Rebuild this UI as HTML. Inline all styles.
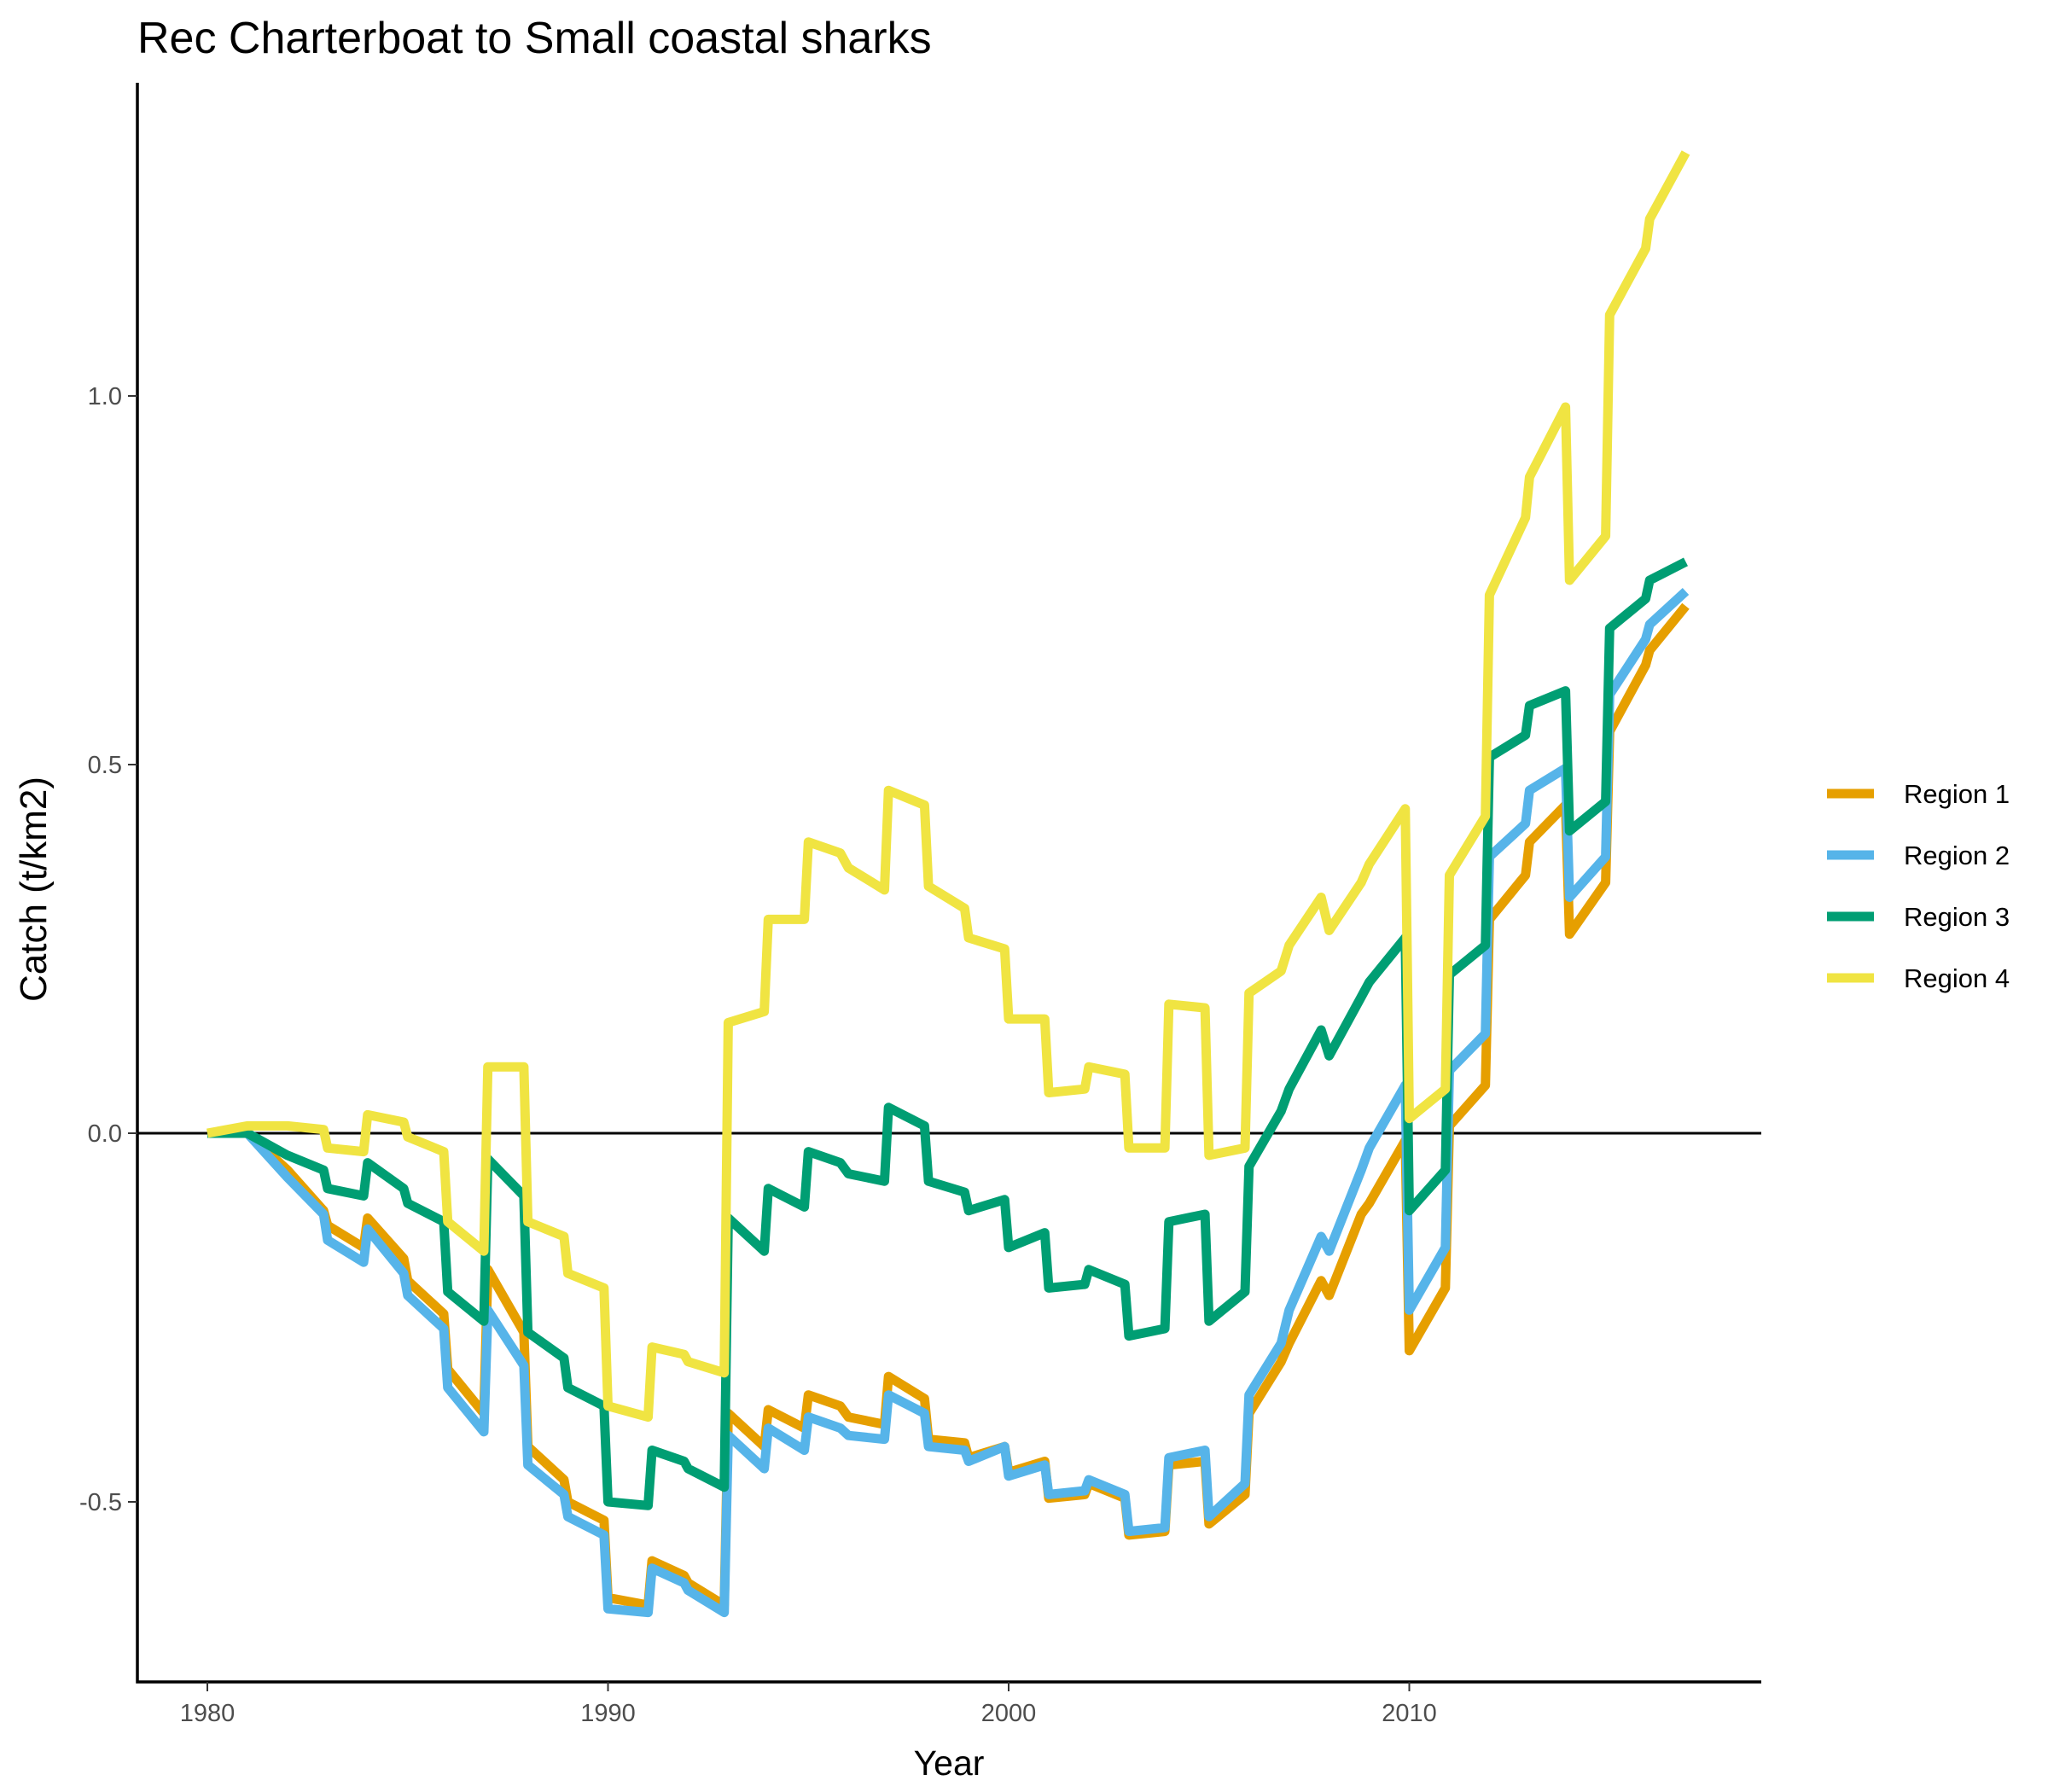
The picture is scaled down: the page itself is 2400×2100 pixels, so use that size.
<!DOCTYPE html>
<html><head><meta charset="utf-8"><style>
html,body{margin:0;padding:0;background:#fff;}
svg{display:block;font-family:"Liberation Sans",sans-serif;}
</style></head><body>
<svg id="chart" width="2400" height="2100" viewBox="0 0 2400 2100" xmlns="http://www.w3.org/2000/svg">
<rect width="2400" height="2100" fill="#fff"/>
<text x="161" y="62" font-size="52" fill="#000">Rec Charterboat to Small coastal sharks</text>
<g id="plot"></g>
<text x="1112" y="2080" font-size="41" text-anchor="middle" fill="#000">Year</text>
<text transform="translate(54,1042) rotate(-90)" font-size="44" text-anchor="middle" fill="#000">Catch (t/km2)</text>
<g id="legend"></g>
</svg>
<script>
const xTicks = [1980, 1990, 2000, 2010];
const yTicks = [-0.5, 0, 0.5, 1];
const yTickLabels = ["-0.5", "0.0", "0.5", "1.0"];
const seriesNames = ["Region 1", "Region 2", "Region 3", "Region 4"];
const seriesColors = ["#E69F00", "#56B4E9", "#009E73", "#F0E442"];
const years = [1980,1981,1982,1982.9,1983,1983.9,1984,1984.9,1985,1985.9,1986,1986.9,1987,1987.9,1988,1988.9,1989,1989.9,1990,1991,1991.1,1991.9,1992,1992.9,1993,1993.9,1994,1994.9,1995,1995.8,1996,1996.9,1997,1997.9,1998,1998.9,1999,1999.9,2000,2000.9,2001,2001.9,2002,2002.9,2003,2003.9,2004,2004.9,2005,2005.9,2006,2006.8,2007,2007.8,2008,2008.8,2009,2009.9,2010,2010.9,2011,2011.9,2012,2012.9,2013,2013.9,2014,2014.9,2015,2015.9,2016,2016.9];
const region1 = [0,0,-0.05,-0.105,-0.125,-0.155,-0.115,-0.17,-0.2,-0.245,-0.32,-0.38,-0.185,-0.27,-0.425,-0.47,-0.5,-0.525,-0.63,-0.64,-0.58,-0.6,-0.61,-0.64,-0.38,-0.425,-0.375,-0.4,-0.355,-0.37,-0.385,-0.395,-0.33,-0.36,-0.415,-0.42,-0.44,-0.425,-0.46,-0.445,-0.495,-0.49,-0.475,-0.495,-0.545,-0.54,-0.45,-0.445,-0.53,-0.49,-0.38,-0.31,-0.285,-0.2,-0.22,-0.11,-0.095,-0.01,-0.295,-0.21,0.01,0.065,0.29,0.35,0.395,0.445,0.27,0.34,0.545,0.635,0.655,0.715];
const region2 = [0,0,-0.06,-0.11,-0.145,-0.175,-0.13,-0.19,-0.22,-0.265,-0.345,-0.405,-0.24,-0.315,-0.45,-0.49,-0.52,-0.545,-0.645,-0.65,-0.59,-0.61,-0.62,-0.65,-0.41,-0.455,-0.4,-0.43,-0.385,-0.4,-0.41,-0.415,-0.355,-0.38,-0.425,-0.43,-0.445,-0.425,-0.465,-0.45,-0.49,-0.485,-0.47,-0.49,-0.54,-0.535,-0.44,-0.43,-0.52,-0.475,-0.355,-0.285,-0.24,-0.14,-0.16,-0.05,-0.02,0.065,-0.24,-0.155,0.085,0.135,0.375,0.42,0.465,0.495,0.32,0.375,0.595,0.67,0.69,0.735];
const region3 = [0,0,-0.03,-0.05,-0.075,-0.085,-0.04,-0.075,-0.095,-0.12,-0.215,-0.255,-0.035,-0.085,-0.27,-0.305,-0.345,-0.37,-0.5,-0.505,-0.43,-0.445,-0.455,-0.48,-0.115,-0.16,-0.075,-0.1,-0.025,-0.04,-0.055,-0.065,0.035,0.01,-0.065,-0.08,-0.105,-0.09,-0.155,-0.135,-0.21,-0.205,-0.185,-0.205,-0.275,-0.265,-0.12,-0.11,-0.255,-0.215,-0.045,0.03,0.06,0.14,0.105,0.185,0.205,0.265,-0.105,-0.05,0.215,0.255,0.51,0.54,0.58,0.6,0.41,0.45,0.685,0.725,0.75,0.775];
const region4 = [0,0.01,0.01,0.005,-0.02,-0.025,0.025,0.015,-0.005,-0.025,-0.12,-0.16,0.09,0.09,-0.12,-0.14,-0.19,-0.21,-0.37,-0.385,-0.29,-0.3,-0.31,-0.325,0.15,0.165,0.29,0.29,0.395,0.38,0.36,0.33,0.465,0.445,0.335,0.305,0.265,0.25,0.155,0.155,0.055,0.06,0.09,0.08,-0.02,-0.02,0.175,0.17,-0.03,-0.02,0.19,0.22,0.255,0.32,0.275,0.34,0.365,0.44,0.02,0.06,0.35,0.43,0.73,0.835,0.89,0.985,0.75,0.81,1.11,1.2,1.24,1.33];
const allSeries = [region1, region2, region3, region4];

const NS = "http://www.w3.org/2000/svg";
const X0 = 243, XPY = 46.95, Y0 = 1328, YPU = 864;
const L = 161, R = 2064, T = 97, B = 1971;
function xs(v){ return X0 + (v - 1980) * XPY; }
function ys(v){ return Y0 - v * YPU; }
function mk(tag, attrs){ const e = document.createElementNS(NS, tag); for (const k in attrs) e.setAttribute(k, attrs[k]); return e; }
const plot = document.getElementById("plot");

const zl = mk("line", {x1:L, x2:R, y1:ys(0), y2:ys(0), stroke:"#000", "stroke-width":3});


plot.appendChild(zl);

allSeries.forEach((s, i) => {
  const d = s.map((v, j) => (j ? "L" : "M") + xs(years[j]).toFixed(1) + "," + ys(v).toFixed(1)).join("");
  const p = mk("path", {d:d, fill:"none", stroke:seriesColors[i], "stroke-width":11, "stroke-linejoin":"round"});
  
  
  plot.appendChild(p);
});

const ax = mk("path", {d:`M${L},${T}L${L},${B}L${R},${B}`, fill:"none", stroke:"#000", "stroke-width":3.5});


plot.appendChild(ax);

xTicks.forEach(t => {
  const tk = mk("line", {x1:xs(t), x2:xs(t), y1:B, y2:B + 11, stroke:"#333", "stroke-width":2});
  
  
  plot.appendChild(tk);
  const tx = mk("text", {x:xs(t), y:B + 46, "font-size":29, fill:"#4d4d4d", "text-anchor":"middle"});
  tx.textContent = t;
  
  
  plot.appendChild(tx);
});
yTicks.forEach((t, i) => {
  const tk = mk("line", {x1:L - 11, x2:L, y1:ys(t), y2:ys(t), stroke:"#333", "stroke-width":2});
  
  
  plot.appendChild(tk);
  const tx = mk("text", {x:L - 18, y:ys(t) + 10, "font-size":29, fill:"#4d4d4d", "text-anchor":"end"});
  tx.textContent = yTickLabels[i];
  
  
  plot.appendChild(tx);
});

const lg = document.getElementById("legend");
seriesNames.forEach((n, i) => {
  const y = 930 + i * 72;
  const ln = mk("line", {x1:2141, x2:2196, y1:y, y2:y, stroke:seriesColors[i], "stroke-width":11});
  
  
  lg.appendChild(ln);
  const tx = mk("text", {x:2231, y:y + 11, "font-size":31, fill:"#000"});
  tx.textContent = n;
  
  
  lg.appendChild(tx);
});
</script>
</body></html>
